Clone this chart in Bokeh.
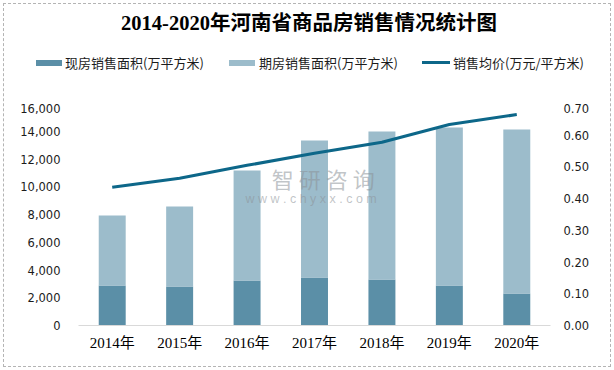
from bokeh.plotting import figure
from bokeh.layouts import column
from bokeh.models import (ColumnDataSource, Range1d, LinearAxis, NumeralTickFormatter,
                          FixedTicker, Label, FactorRange, Div)
from bokeh.embed import file_html
from bokeh.resources import INLINE

# ---- data ----
years = ["2014年", "2015年", "2016年", "2017年", "2018年", "2019年", "2020年"]
spot_area = [2880, 2810, 3240, 3460, 3320, 2880, 2310]          # 现房销售面积(万平方米)
presale_area = [5050, 5770, 7930, 9870, 10660, 11390, 11820]    # 期房销售面积(万平方米)
avg_price = [0.436, 0.464, 0.505, 0.543, 0.578, 0.634, 0.665]   # 销售均价(万元/平方米)
left_ticks = [0, 2000, 4000, 6000, 8000, 10000, 12000, 14000, 16000]
right_ticks = [0.0, 0.1, 0.2, 0.3, 0.4, 0.5, 0.6, 0.7]

title_text = "2014-2020年河南省商品房销售情况统计图"
series_names = ["现房销售面积(万平方米)", "期房销售面积(万平方米)", "销售均价(万元/平方米)"]

src = ColumnDataSource(dict(year=years, spot=spot_area, presale=presale_area, price=avg_price))

DARK = "#5b8fa7"
LIGHT = "#9cbccb"
LINE = "#0d6789"
TXT = "#1c1c1c"
CJK_SERIF = "'Liberation Serif', 'Noto Sans CJK SC'"
W, H_HEAD, H_TOTAL = 614, 103, 370

# ---- header: title + legend ----
def swatch(left, top, w, h, color):
    return (f'<div style="position:absolute;left:{left}px;top:{top}px;width:{w}px;'
            f'height:{h}px;background:{color};"></div>')

def ltext(left, s):
    return (f'<div style="position:absolute;left:{left}px;top:55px;line-height:16px;'
            f'font-family:\'Noto Sans CJK SC\';font-size:13px;color:{TXT};'
            f'white-space:nowrap;">{s}</div>')

head_html = (
    f'<div style="position:relative;width:{W}px;height:{H_HEAD}px;">'
    f'<div style="position:absolute;left:0;top:11px;width:618px;text-align:center;'
    f'line-height:24px;font-family:{CJK_SERIF};font-size:20.5px;font-weight:bold;'
    f'color:#000;white-space:nowrap;">{title_text}</div>'
    + swatch(36, 60, 26, 6, DARK) + ltext(65, series_names[0])
    + swatch(229, 60, 26, 6, LIGHT) + ltext(259, series_names[1])
    + swatch(422, 61, 28, 3, LINE) + ltext(453, series_names[2])
    + '</div>'
)
head = Div(text=head_html, width=W, height=H_HEAD, margin=0)

# ---- chart ----
p = figure(x_range=FactorRange(*years, range_padding=0), y_range=Range1d(0, 16000),
           width=W, height=H_TOTAL - H_HEAD, output_backend="svg", toolbar_location=None,
           min_border_left=78, min_border_right=64, min_border_top=0, min_border_bottom=45,
           margin=0)
p.outline_line_color = None
p.border_fill_color = None
p.background_fill_color = None
p.xgrid.visible = False
p.ygrid.visible = False

p.vbar_stack(["spot", "presale"], x="year", width=0.4, color=[DARK, LIGHT],
             line_color=None, source=src)

p.extra_y_ranges = {"price": Range1d(0, 0.7)}
p.line(x="year", y="price", source=src, y_range_name="price", line_width=3, color=LINE)

xa = p.xaxis[0]
xa.axis_line_color = "#d9d9d9"
xa.major_tick_line_color = None
xa.minor_tick_line_color = None
xa.major_tick_out = 0
xa.major_tick_in = 0
xa.major_label_standoff = 9
xa.major_label_text_font = CJK_SERIF
xa.major_label_text_font_size = "15px"
xa.major_label_text_color = "#000000"

ya = p.yaxis[0]
ya.ticker = FixedTicker(ticks=left_ticks)
ya.formatter = NumeralTickFormatter(format="0,0")
ya.axis_line_color = None
ya.major_tick_line_color = None
ya.minor_tick_line_color = None
ya.major_tick_out = 0
ya.major_tick_in = 0
ya.major_label_standoff = 18
ya.major_label_text_font = "DejaVu Sans"
ya.major_label_text_font_size = "11.5px"
ya.major_label_text_color = TXT

ra = LinearAxis(y_range_name="price", ticker=FixedTicker(ticks=right_ticks),
                formatter=NumeralTickFormatter(format="0.00"))
ra.axis_line_color = None
ra.major_tick_line_color = None
ra.minor_tick_line_color = None
ra.major_tick_out = 0
ra.major_tick_in = 0
ra.major_label_standoff = 13
ra.major_label_text_font = "DejaVu Sans"
ra.major_label_text_font_size = "11.5px"
ra.major_label_text_color = TXT
p.add_layout(ra, "right")

# watermark
p.add_layout(Label(x=3.63, y=10600, text="智 研 咨 询", text_align="center", text_baseline="middle",
                   text_font="Noto Sans CJK SC", text_font_size="22px", text_color="#8c9298",
                   text_alpha=0.55))
p.add_layout(Label(x=3.45, y=9150, text="w w w . c h y x x . c o m", text_align="center",
                   text_baseline="middle", text_font="Liberation Sans", text_font_size="12.5px",
                   text_color="#8c9298", text_alpha=0.55))

layout = column(head, p, spacing=0)
layout.styles = {"outline": "1px dashed #b4b4b4", "outline-offset": "-4px"}

open("out.html", "w").write(file_html(layout, INLINE))
